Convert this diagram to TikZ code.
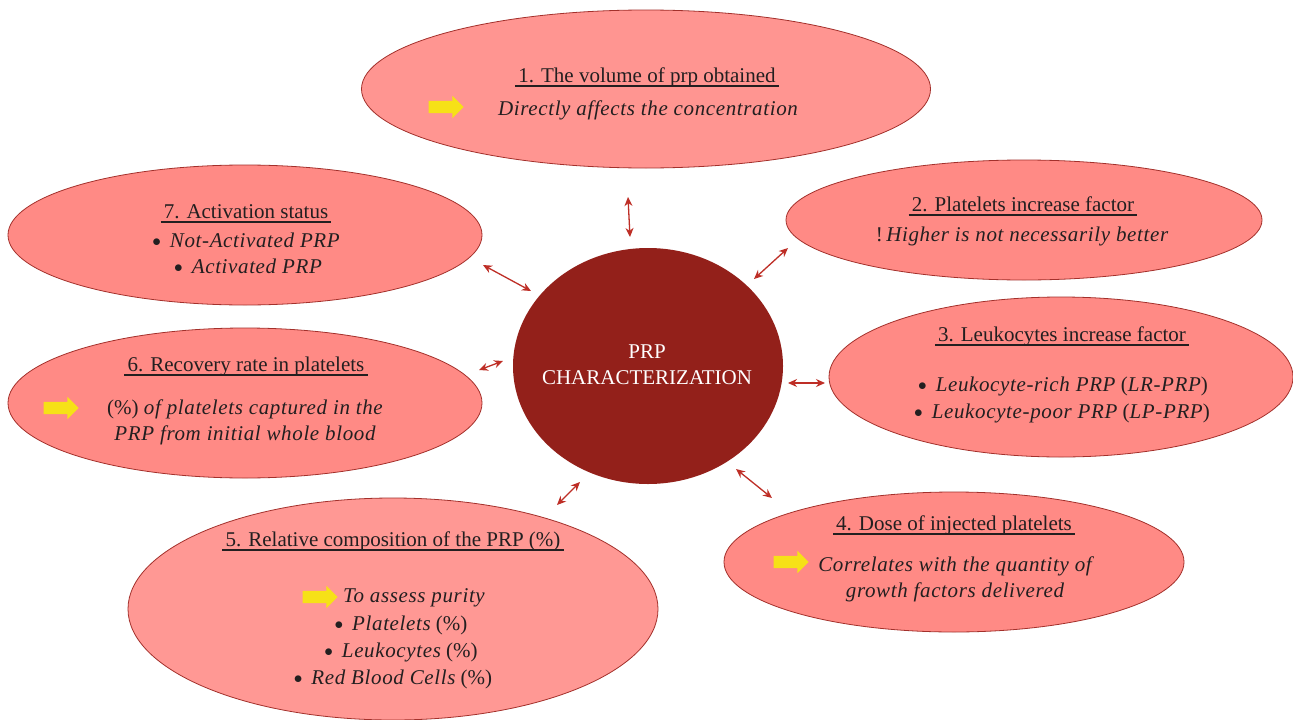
\documentclass[tikz,border=0pt]{standalone}
\usepackage{fontspec}
\setmainfont{Liberation Serif}
\usetikzlibrary{shapes.geometric,shapes.arrows,arrows.meta}
\definecolor{ebord}{HTML}{A3302B}
\definecolor{efillA}{HTML}{FF9591}
\definecolor{efillB}{HTML}{FF8A85}
\definecolor{efillC}{HTML}{FF9894}
\definecolor{corefill}{HTML}{93201A}
\definecolor{arr}{HTML}{BE2E26}
\definecolor{yel}{HTML}{F6E117}
\definecolor{txt}{HTML}{231F20}
\newcommand{\bul}{{\fontsize{16pt}{16pt}\selectfont\raisebox{1pt}{$\bullet$}}\hspace{9pt}}
\newcommand{\itx}[1]{{\addfontfeatures{LetterSpace=3}\itshape #1}}
\begin{document}
\begin{tikzpicture}[x=1pt,y=-1pt,
  bubble/.style={ellipse, draw=ebord, line width=0.8pt, inner sep=0pt},
  corestyle/.style={ellipse, fill=corefill, draw=none, inner sep=0pt},
  ttl/.style={anchor=base, inner sep=0pt, inner xsep=3pt, font=\fontsize{21pt}{27pt}\selectfont, text=txt},
  ln/.style={anchor=base, inner sep=0pt, font=\fontsize{21pt}{27pt}\selectfont, text=txt},
  cln/.style={anchor=base, inner sep=0pt, font=\fontsize{21pt}{27pt}\selectfont, text=white},
  uline/.style={draw=txt, line width=1.5pt},
  link/.style={draw=arr, line width=1.3pt, {Stealth[length=9pt,width=8pt]}-{Stealth[length=9pt,width=8pt]}},
  yarrow/.style={single arrow, fill=yel, draw=none, inner sep=6pt, minimum height=35pt, single arrow head extend=5pt, anchor=center}
]
\useasboundingbox (0,0) rectangle (1293,720);
\fill[white] (0,0) rectangle (1293,720);

% bubbles
\node[bubble, fill=efillA, minimum width=569pt, minimum height=158pt] (e1) at (646,89) {};
\node[bubble, fill=efillB, minimum width=476pt, minimum height=120pt] (e2) at (1024,220) {};
\node[bubble, fill=efillB, minimum width=464pt, minimum height=160pt] (e3) at (1061,377) {};
\node[bubble, fill=efillB, minimum width=460pt, minimum height=140pt] (e4) at (954,562) {};
\node[bubble, fill=efillC, minimum width=530pt, minimum height=222pt] (e5) at (393,609) {};
\node[bubble, fill=efillB, minimum width=474pt, minimum height=150pt] (e6) at (245,403) {};
\node[bubble, fill=efillB, minimum width=474pt, minimum height=140pt] (e7) at (245,235) {};
\node[corestyle, minimum width=270pt, minimum height=236pt] (c) at (648,366) {};

% connectors
\coordinate (a1s) at (628,197); \coordinate (a1e) at (630,237);
\coordinate (a2s) at (754,279); \coordinate (a2e) at (788,248);
\coordinate (a3s) at (788,383); \coordinate (a3e) at (825,383);
\coordinate (a4s) at (736,469); \coordinate (a4e) at (772,498);
\coordinate (a5s) at (557,505); \coordinate (a5e) at (580,482);
\coordinate (a6s) at (479,370); \coordinate (a6e) at (503,361);
\coordinate (a7s) at (483,265); \coordinate (a7e) at (531,291);
\draw[link] (a1s) -- (a1e);
\draw[link] (a2s) -- (a2e);
\draw[link] (a3s) -- (a3e);
\draw[link] (a4s) -- (a4e);
\draw[link] (a5s) -- (a5e);
\draw[link] (a6s) -- (a6e);
\draw[link] (a7s) -- (a7e);

% center text
\node[cln] (c1) at (647,358) {PRP};
\node[cln] (c2) at (647,384) {CHARACTERIZATION};

% 1
\node[ttl] (t1) at (647,82) {1. The volume of prp obtained};
\draw[uline] ([yshift=-4pt]t1.base west) -- ([yshift=-4pt]t1.base east);
\node[yarrow] (y1) at (443,107) {};
\node[ln] (l1a) at (648,115) {\itx{Directly affects the concentration}};

% 2
\node[ttl] (t2) at (1023,211) {2. Platelets increase factor};
\draw[uline] ([yshift=-4pt]t2.base west) -- ([yshift=-4pt]t2.base east);
\node[ln] (l2a) at (1022,241) {!\,\itx{Higher is not necessarily better}};

% 3
\node[ttl] (t3) at (1062,341) {3. Leukocytes increase factor};
\draw[uline] ([yshift=-4pt]t3.base west) -- ([yshift=-4pt]t3.base east);
\node[ln] (l3a) at (1063,391) {\bul\itx{Leukocyte-rich PRP} (\itx{LR-PRP})};
\node[ln] (l3b) at (1062,418) {\bul\itx{Leukocyte-poor PRP} (\itx{LP-PRP})};

% 4
\node[ttl] (t4) at (954,530) {4. Dose of injected platelets};
\draw[uline] ([yshift=-4pt]t4.base west) -- ([yshift=-4pt]t4.base east);
\node[yarrow] (y4) at (788,562) {};
\node[ln] (l4a) at (955,571) {\itx{Correlates with the quantity of}};
\node[ln] (l4b) at (955,597) {\itx{growth factors delivered}};

% 5
\node[ttl] (t5) at (393,546) {5. Relative composition of the PRP (\%)};
\draw[uline] ([yshift=-4pt]t5.base west) -- ([yshift=-4pt]t5.base east);
\node[yarrow] (y5) at (317,597) {};
\node[ln, anchor=base west] (l5a) at (343,602) {\itx{To assess purity}};
\node[ln] (l5b) at (401,630) {\bul\itx{Platelets} (\%)};
\node[ln] (l5c) at (401,657) {\bul\itx{Leukocytes} (\%)};
\node[ln] (l5d) at (393,684) {\bul\itx{Red Blood Cells} (\%)};

% 6
\node[ttl] (t6) at (246,371) {6. Recovery rate in platelets};
\draw[uline] ([yshift=-4pt]t6.base west) -- ([yshift=-4pt]t6.base east);
\node[yarrow] (y6) at (58,408) {};
\node[ln] (l6a) at (245,414) {(\%) \itx{of platelets captured in the}};
\node[ln] (l6b) at (245,440) {\itx{PRP from initial whole blood}};

% 7
\node[ttl] (t7) at (246,218) {7. Activation status};
\draw[uline] ([yshift=-4pt]t7.base west) -- ([yshift=-4pt]t7.base east);
\node[ln] (l7a) at (246,247) {\bul\itx{Not-Activated PRP}};
\node[ln] (l7b) at (248,273) {\bul\itx{Activated PRP}};
\end{tikzpicture}
\end{document}
